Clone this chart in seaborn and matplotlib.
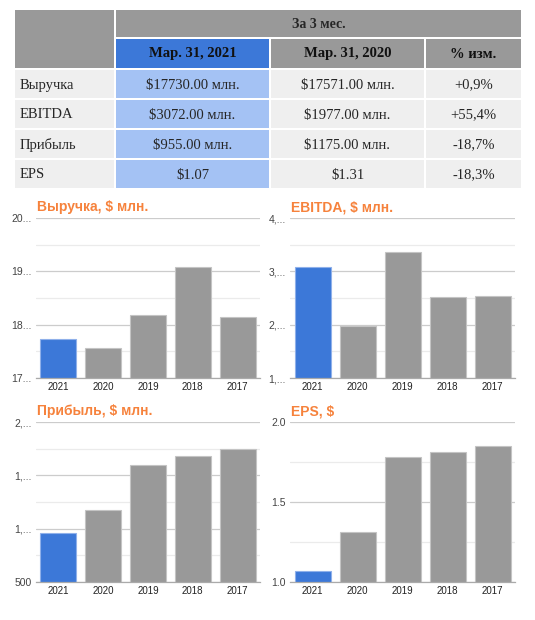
import matplotlib
matplotlib.use("Agg")
import matplotlib.pyplot as plt
from matplotlib.patches import Rectangle
import seaborn as sns
import pandas as pd

# --- data ---
years = ["2021", "2020", "2019", "2018", "2017"]
revenue = [17730, 17571, 18190, 19080, 18150]
ebitda = [3072, 1977, 3360, 2510, 2530]
profit = [955, 1175, 1596, 1681, 1747]
eps = [1.07, 1.31, 1.78, 1.81, 1.85]

row_names = ["Выручка", "EBITDA", "Прибыль", "EPS"]
col_2021 = ["$17730.00 млн.", "$3072.00 млн.", "$955.00 млн.", "$1.07"]
col_2020 = ["$17571.00 млн.", "$1977.00 млн.", "$1175.00 млн.", "$1.31"]
col_change = ["+0,9%", "+55,4%", "-18,7%", "-18,3%"]
header_top = "За 3 мес."
header_cols = ["Мар. 31, 2021", "Мар. 31, 2020", "% изм."]

W, H = 535, 620
BLUE = "#3c78d8"
GREY = "#999999"
LIGHT_BLUE = "#a4c2f4"
LIGHT_GREY = "#efefef"
ORANGE = "#f6823c"

sns.set_style("white")
plt.rcParams["font.family"] = ["Liberation Sans", "DejaVu Sans"]

fig = plt.figure(figsize=(W / 100, H / 100), dpi=100)

# --- table (pixel coordinates) ---
tab = fig.add_axes([0, 0, 1, 1])
tab.set_xlim(0, W)
tab.set_ylim(H, 0)
tab.axis("off")


def cell(x0, x1, y0, y1, color):
    tab.add_patch(Rectangle((x0, y0), x1 - x0, y1 - y0, facecolor=color, edgecolor="none"))


serif = ["Liberation Serif", "DejaVu Serif"]
cols = [(15, 114), (116, 269), (271, 424), (426, 521)]

cell(15, 114, 10, 68, GREY)
cell(116, 521, 10, 37, GREY)
tab.text((116 + 521) / 2, 24, header_top, ha="center", va="center",
         fontsize=10, fontweight="bold", family=serif)
for i, (label, color) in enumerate(zip(header_cols, [BLUE, GREY, GREY])):
    x0, x1 = cols[i + 1]
    cell(x0, x1, 39, 68, color)
    tab.text((x0 + x1) / 2, 54, label, ha="center", va="center",
             fontsize=10.5, fontweight="bold", family=serif, color="#111111")

rows_y = [(70, 98), (100, 128), (130, 158), (160, 188)]
for r, (y0, y1) in enumerate(rows_y):
    yc = (y0 + y1) / 2 + 1
    fills = [LIGHT_GREY, LIGHT_BLUE, LIGHT_GREY, LIGHT_GREY]
    for (x0, x1), f in zip(cols, fills):
        cell(x0, x1, y0, y1, f)
    tab.text(20, yc, row_names[r], ha="left", va="center", fontsize=10.5, family=serif)
    tab.text(sum(cols[1]) / 2, yc, col_2021[r], ha="center", va="center", fontsize=10.5, family=serif)
    tab.text(sum(cols[2]) / 2, yc, col_2020[r], ha="center", va="center", fontsize=10.5, family=serif)
    tab.text(sum(cols[3]) / 2, yc, col_change[r], ha="center", va="center", fontsize=10.5, family=serif)

# --- bar charts ---
charts = [
    ("Выручка, $ млн.", revenue, (17000, 20000), [17000, 18000, 19000, 20000],
     ["17...", "18...", "19...", "20..."], (36, 260, 218, 378)),
    ("EBITDA, $ млн.", ebitda, (1000, 4000), [1000, 2000, 3000, 4000],
     ["1,...", "2,...", "3,...", "4,..."], (290, 515, 218, 378)),
    ("Прибыль, $ млн.", profit, (500, 2000), [500, 1000, 1500, 2000],
     ["500", "1,...", "1,...", "2,..."], (36, 260, 422, 582)),
    ("EPS, $", eps, (1.0, 2.0), [1.0, 1.5, 2.0],
     ["1.0", "1.5", "2.0"], (290, 515, 422, 582)),
]

for title, values, ylim, ticks, labels, (x0, x1, y0, y1) in charts:
    ax = fig.add_axes([x0 / W, 1 - y1 / H, (x1 - x0) / W, (y1 - y0) / H])
    df = pd.DataFrame({"year": years, "value": values})
    sns.barplot(data=df, x="year", y="value", hue="year",
                palette=[BLUE] + [GREY] * 4, width=0.8, saturation=1,
                legend=False, ax=ax, zorder=3)
    for i, p in enumerate(ax.patches):
        p.set_edgecolor("#8fb0ea" if i == 0 else "#c4c4c4")
        p.set_linewidth(0.8)
    ax.set_ylim(*ylim)
    ax.set_xlim(-0.5, 4.5)
    ax.set_yticks(ticks, labels)
    minor = [(a + b) / 2 for a, b in zip(ticks[:-1], ticks[1:])]
    ax.set_yticks(minor, minor=True)
    ax.grid(axis="y", which="major", color="#cccccc", linewidth=0.9, zorder=0)
    ax.grid(axis="y", which="minor", color="#ebebeb", linewidth=0.9, zorder=0)
    ax.tick_params(axis="both", which="both", length=0, colors="#444444")
    ax.tick_params(axis="y", pad=3, labelsize=7.5)
    ax.tick_params(axis="x", pad=3, labelsize=7, labelcolor="#222222")
    ax.set_xlabel("")
    ax.set_ylabel("")
    for s in ["top", "left", "right"]:
        ax.spines[s].set_visible(False)
    ax.spines["bottom"].set_color("#aaaaaa")
    ax.spines["bottom"].set_linewidth(0.9)
    ax.spines["bottom"].set_zorder(4)
    tab.text(x0 + 1, y0 - 11, title, ha="left", va="center", fontsize=10,
             fontweight="bold", color=ORANGE)

fig.savefig("out.png", dpi=100)
